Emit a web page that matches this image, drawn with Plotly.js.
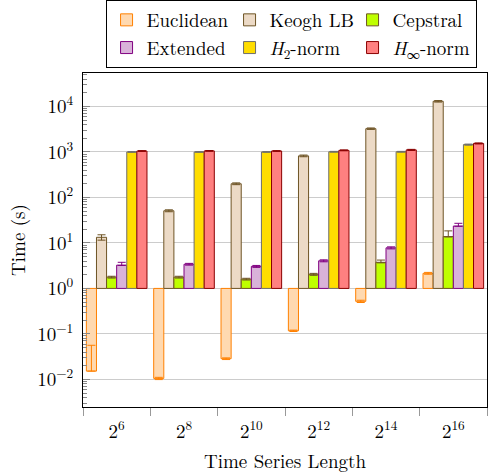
<!DOCTYPE html>
<html>
<head>
<meta charset="utf-8">
<script src="https://cdn.plot.ly/plotly-3.0.1.min.js"></script>
<style>html,body{margin:0;padding:0;background:#fff;}#chart{width:488px;height:474px;}</style>
</head>
<body>
<div id="chart"></div>
<script>
const categories = ["2<sup>6</sup>", "2<sup>8</sup>", "2<sup>10</sup>", "2<sup>12</sup>", "2<sup>14</sup>", "2<sup>16</sup>"];
const seriesNames = ["Euclidean", "Keogh LB", "Cepstral", "Extended", "<i>H</i><sub>2</sub>-norm", "<i>H</i><sub>∞</sub>-norm"];

const euclidean      = [0.0152, 0.0105, 0.0285, 0.117, 0.52, 2.15];
const euclideanErrP  = [0.041, 0.0006, 0.0012, 0.004, 0.03, 0.1];
const euclideanErrM  = [0.0, 0.0006, 0.0012, 0.004, 0.03, 0.1];
const keogh          = [13.3, 51, 200, 820, 3250, 13000];
const keoghErr       = [1.8, 2.5, 9, 35, 120, 500];
const cepstral       = [1.77, 1.77, 1.6, 2.04, 3.75, 13.8];
const cepstralErrP   = [0.08, 0.08, 0.07, 0.1, 0.45, 4.6];
const cepstralErrM   = [0.08, 0.08, 0.07, 0.1, 0.1, 0.3];
const extended       = [3.25, 3.4, 3.05, 4.05, 7.8, 23.5];
const extendedErrP   = [0.5, 0.15, 0.15, 0.2, 0.4, 3.5];
const extendedErrM   = [0.05, 0.15, 0.15, 0.2, 0.4, 0.3];
const h2norm         = [1000, 1000, 1000, 1010, 1010, 1450];
const h2Err          = [15, 15, 15, 20, 20, 40];
const hinfnorm       = [1050, 1055, 1050, 1085, 1110, 1540];
const hinfErr        = [20, 20, 20, 25, 30, 40];

const yTickVals  = [0.01, 0.1, 1, 10, 100, 1000, 10000];
const yTickText  = ["10<sup>−2</sup>", "10<sup>−1</sup>", "10<sup>0</sup>", "10<sup>1</sup>", "10<sup>2</sup>", "10<sup>3</sup>", "10<sup>4</sup>"];

const fills   = ["#FFD9B0", "#ECDAC6", "#BFFF00", "#D9B2D9", "#FFDD00", "#FF8080"];
const borders = ["#FF8000", "#6E5425", "#6E5425", "#800080", "#6E6E6E", "#8B0000"];

const values  = [euclidean, keogh, cepstral, extended, h2norm, hinfnorm];
const errPlus = [euclideanErrP, keoghErr, cepstralErrP, extendedErrP, h2Err, hinfErr];
const errMinus= [euclideanErrM, keoghErr, cepstralErrM, extendedErrM, h2Err, hinfErr];

const FONT = "Latin Modern Roman";

const traces = values.map((vals, i) => ({
  type: "bar",
  name: seriesNames[i],
  x: categories,
  base: 1,
  y: vals.map(v => v - 1),
  marker: {color: fills[i], line: {color: borders[i], width: 1}},
  error_y: {type: "data", symmetric: false, array: errPlus[i], arrayminus: errMinus[i],
            color: borders[i], thickness: 1, width: 4},
  hoverinfo: "skip"
}));

const layout = {
  width: 488, height: 474,
  margin: {l: 83, r: 1, t: 72, b: 67},
  paper_bgcolor: "#fff", plot_bgcolor: "#fff",
  font: {family: FONT, size: 18, color: "#000"},
  barmode: "group",
  bargap: 0.1,
  bargroupgap: 0,
  showlegend: true,
  legend: {
    orientation: "h", x: 0.515, xanchor: "center", y: 1.215, yanchor: "top",
    bordercolor: "#000", borderwidth: 1, bgcolor: "#fff",
    font: {family: FONT, size: 19},
    entrywidth: 78, entrywidthmode: "pixels",
    itemwidth: 30, tracegroupgap: 0
  },
  xaxis: {
    type: "category",
    showline: true, linecolor: "#000", linewidth: 1, mirror: true,
    ticks: "outside", tickson: "boundaries", ticklen: 8, tickcolor: "#999", tickwidth: 1,
    ticklabelstandoff: 7,
    showgrid: false,
    tickfont: {family: FONT, size: 19},
    title: {text: "Time Series Length", font: {family: FONT, size: 19}, standoff: 12}
  },
  yaxis: {
    type: "log",
    range: [-2.607, 4.736],
    showline: true, linecolor: "#000", linewidth: 1, mirror: true,
    tickmode: "array", tickvals: yTickVals, ticktext: yTickText,
    ticks: "inside", ticklen: 7, tickcolor: "#888", tickwidth: 1,
    ticklabelstandoff: 5,
    showgrid: true, gridcolor: "#CCCCCC", gridwidth: 1,
    zeroline: false,
    minor: {dtick: "D1", ticks: "inside", ticklen: 4, tickcolor: "#888", tickwidth: 1, showgrid: false},
    tickfont: {family: FONT, size: 19},
    title: {text: "Time (s)", font: {family: FONT, size: 19}, standoff: 6}
  }
};

Plotly.newPlot("chart", traces, layout, {staticPlot: true, displayModeBar: false});
</script>
</body>
</html>
